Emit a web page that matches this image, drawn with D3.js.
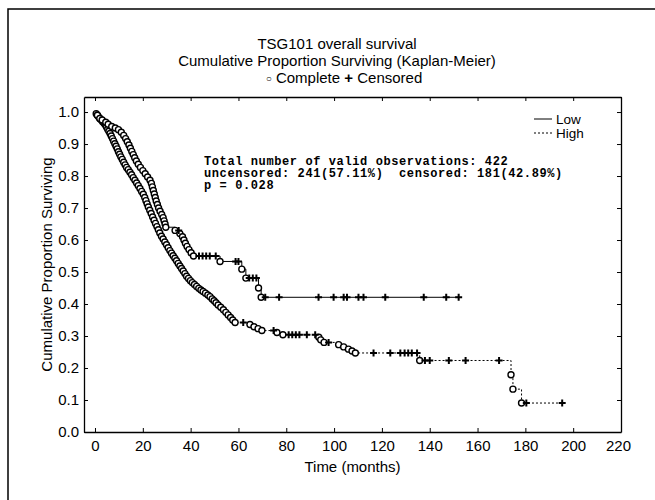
<!DOCTYPE html>
<html>
<head>
<meta charset="utf-8">
<script src="https://cdn.jsdelivr.net/npm/d3@7"></script>
<style>
  body { margin: 0; background: #fff; }
</style>
</head>
<body>
<div class="canvas"></div>
<script>
// ---- data ----
// events: [months, proportion surviving after the event]
const lowEvents = [
  [1,0.99],[2,0.98],[3,0.975],[4.5,0.968],[5.5,0.962],[7,0.955],[8.5,0.95],[9.8,0.945],
  [11,0.937],[12,0.927],[12.8,0.917],[13.5,0.907],[14.2,0.897],[14.8,0.887],[15.4,0.877],
  [16,0.867],[16.6,0.857],[17.3,0.847],[18.1,0.837],[19,0.827],[20,0.817],[21,0.807],
  [22,0.797],[23,0.787],[23.6,0.777],[24,0.766],[24.4,0.755],[24.8,0.744],[25.2,0.733],
  [25.6,0.722],[26.1,0.711],[26.6,0.7],[27.2,0.69],[27.9,0.68],[28.5,0.67],[28.9,0.66],
  [29.3,0.65],[29.6,0.64],[33.5,0.63],[35.5,0.62],[36.6,0.61],[37.2,0.6],[37.8,0.59],
  [38.5,0.58],[39.3,0.57],[40.2,0.56],[41.2,0.55],[52.3,0.533],[61.4,0.509],[63.1,0.481],
  [68.4,0.45],[69.5,0.421]
];
const lowCensored = [35, 43.5, 45, 46.5, 48, 50.5, 58.8, 60, 64.5, 66, 67.5,
  71.2, 77, 93.5, 99.8, 104, 105.4, 110.2, 112.3, 121.4, 137.5, 146.9, 152.1];

const highEvents = [
  [0.5,0.995],[1,0.99],[1.5,0.985],[2,0.98],[2.6,0.975],[3.2,0.97],[3.8,0.965],[4.3,0.96],
  [4.8,0.953],[5.3,0.946],[5.8,0.94],[6.3,0.933],[6.8,0.925],[7.3,0.917],[7.8,0.909],
  [8.3,0.901],[8.8,0.893],[9.3,0.885],[9.8,0.876],[10.3,0.868],[10.8,0.86],[11.4,0.852],
  [12,0.843],[12.6,0.835],[13.2,0.827],[13.9,0.82],[14.6,0.812],[15.3,0.804],[16,0.795],
  [16.7,0.787],[17.4,0.778],[18.1,0.77],[18.8,0.761],[19.5,0.752],[20.2,0.743],[20.8,0.733],
  [21.3,0.723],[21.8,0.713],[22.3,0.703],[22.9,0.693],[23.5,0.683],[24.1,0.672],[24.7,0.662],
  [25.3,0.652],[25.9,0.642],[26.5,0.632],[27.1,0.622],[27.8,0.612],[28.5,0.603],[29.2,0.594],
  [29.9,0.585],[30.6,0.576],[31.3,0.567],[32,0.559],[32.7,0.551],[33.4,0.543],[34.1,0.535],
  [34.8,0.527],[35.5,0.519],[36.2,0.511],[36.9,0.503],[37.6,0.495],[38.3,0.487],[39.1,0.48],
  [39.9,0.473],[40.7,0.467],[41.6,0.461],[42.5,0.455],[43.4,0.449],[44.3,0.444],[45.2,0.439],
  [46.2,0.434],[47.2,0.428],[48.1,0.423],[49,0.416],[49.8,0.41],[50.6,0.404],[51.5,0.397],
  [52.6,0.39],[53.7,0.382],[54.7,0.374],[55.7,0.366],[56.7,0.358],[57.6,0.35],[58.6,0.342],
  [64.8,0.336],[66.5,0.329],[68.2,0.323],[69.8,0.317],[76.1,0.311],[78.6,0.304],
  [93.6,0.296],[94.4,0.288],[95.8,0.28],[101.9,0.273],[104,0.266],[106,0.259],[107.5,0.253],
  [108.9,0.247],[135.8,0.2235],[174,0.179],[174.8,0.134],[178.4,0.0905]
];
const highCensored = [62, 74.7, 81, 82.5, 84, 85.5, 88.6, 92.1, 97.7, 116.5, 123.5,
  127.7, 129.5, 131, 132.5, 134.7, 138, 140, 148, 155, 169, 180.4, 195.4];

const xTicks = [0, 20, 40, 60, 80, 100, 120, 140, 160, 180, 200, 220];
const yTicks = [0, 0.1, 0.2, 0.3, 0.4, 0.5, 0.6, 0.7, 0.8, 0.9, 1.0];

const titleLines = ['TSG101 overall survival', 'Cumulative Proportion Surviving (Kaplan-Meier)'];
const infoLines = [
  'Total number of valid observations: 422',
  'uncensored: 241(57.11%)  censored: 181(42.89%)',
  'p = 0.028'
];

const sans = '"Liberation Sans", Arial, sans-serif';
const mono = '"Liberation Mono", "Courier New", monospace';

// ---- layout ----
const svg = d3.select('.canvas')
  .append('svg')
  .attr('width', 655)
  .attr('height', 500)
  .style('font-family', sans);

const plot = {left: 84, right: 621, top: 97, bottom: 432};

const x = d3.scaleLinear().domain([-4.6, 220]).range([plot.left, plot.right]);
const y = d3.scaleLinear().domain([0, 1.047]).range([plot.bottom, plot.top]);

// outer frame (only left and top edges show)
svg.append('path')
  .attr('d', 'M8,500V9H655')
  .attr('fill', 'none')
  .attr('stroke', '#000')
  .attr('stroke-width', 1.5);

// titles
titleLines.forEach((t, i) => {
  svg.append('text')
    .attr('x', 337).attr('y', 49 + i * 17)
    .attr('text-anchor', 'middle')
    .attr('font-size', 15)
    .text(t);
});
const sub = svg.append('text')
  .attr('x', 344).attr('y', 83)
  .attr('text-anchor', 'middle')
  .attr('font-size', 15);
sub.append('tspan').attr('font-size', 10).attr('dy', -1).text('○');
sub.append('tspan').attr('dy', 1).text(' Complete ');
sub.append('tspan').attr('font-weight', 'bold').text('+');
sub.append('tspan').text('  Censored');

// axes
const styleAxis = g => {
  g.attr('font-size', 15).attr('font-family', sans);
  g.selectAll('path, line').attr('stroke', '#000');
  g.selectAll('text').attr('fill', '#000');
  g.select('.domain').attr('stroke-width', 1.3);
};

const xAxisGroup = svg.append('g')
  .attr('transform', `translate(0,${plot.bottom})`)
  .call(d3.axisBottom(x).tickValues(xTicks).tickSizeInner(-4).tickSizeOuter(0).tickPadding(8))
  .call(styleAxis);
// last label sits a little inside the frame in the original
xAxisGroup.selectAll('.tick text').filter(d => d === 220).attr('dx', -3);

svg.append('g')
  .attr('transform', `translate(0,${plot.top})`)
  .call(d3.axisTop(x).tickValues(xTicks).tickFormat('').tickSizeInner(-4).tickSizeOuter(0))
  .call(styleAxis);
svg.append('g')
  .attr('transform', `translate(${plot.left},0)`)
  .call(d3.axisLeft(y).tickValues(yTicks).tickFormat(d3.format('.1f')).tickSizeInner(-4).tickSizeOuter(0).tickPadding(5))
  .call(styleAxis);
svg.append('g')
  .attr('transform', `translate(${plot.right},0)`)
  .call(d3.axisRight(y).tickValues(yTicks).tickFormat('').tickSizeInner(-4).tickSizeOuter(0))
  .call(styleAxis);

// axis titles
svg.append('text')
  .attr('transform', `translate(52,${(plot.top + plot.bottom) / 2}) rotate(-90)`)
  .attr('text-anchor', 'middle')
  .attr('font-size', 15)
  .text('Cumulative Proportion Surviving');
svg.append('text')
  .attr('x', (plot.left + plot.right) / 2).attr('y', 472)
  .attr('text-anchor', 'middle')
  .attr('font-size', 15)
  .text('Time (months)');

// info block
infoLines.forEach((t, i) => {
  svg.append('text')
    .attr('x', 204).attr('y', 164.5 + i * 12)
    .style('font-family', mono)
    .attr('font-weight', 'bold')
    .attr('font-size', 12)
    .attr('letter-spacing', 0.6)
    .style('white-space', 'pre')
    .text(t);
});

// ---- survival curves ----
const stepLine = d3.line().x(d => x(d[0])).y(d => y(d[1])).curve(d3.curveStepAfter);

function survivalAt(events, t) {
  let s = 1;
  events.forEach(e => { if (e[0] <= t) s = e[1]; });
  return s;
}

function drawCurve(events, censored, dash) {
  const lastT = d3.max(censored);
  const pts = [[0, 1], ...events, [lastT, survivalAt(events, lastT)]];
  svg.append('path')
    .datum(pts)
    .attr('d', stepLine)
    .attr('fill', 'none')
    .attr('stroke', '#000')
    .attr('stroke-width', 1)
    .attr('stroke-dasharray', dash);

  svg.append('g').selectAll('circle')
    .data(events)
    .enter().append('circle')
    .attr('cx', d => x(d[0]))
    .attr('cy', d => y(d[1]))
    .attr('r', 3)
    .attr('fill', '#fff')
    .attr('stroke', '#000')
    .attr('stroke-width', 1.4);

  svg.append('g').selectAll('path')
    .data(censored)
    .enter().append('path')
    .attr('d', d => {
      const cx = x(d), cy = y(survivalAt(events, d));
      return `M${cx - 3.5},${cy}H${cx + 3.5}M${cx},${cy - 3.5}V${cy + 3.5}`;
    })
    .attr('stroke', '#000')
    .attr('stroke-width', 2);
}

drawCurve(highEvents, highCensored, '2,2');
drawCurve(lowEvents, lowCensored, null);

// legend
const legend = [{name: 'Low', dash: null}, {name: 'High', dash: '2,2'}];
legend.forEach((l, i) => {
  const ly = 119 + i * 14;
  svg.append('line')
    .attr('x1', 534).attr('x2', 552).attr('y1', ly).attr('y2', ly)
    .attr('stroke', '#000').attr('stroke-width', 1)
    .attr('stroke-dasharray', l.dash);
  svg.append('text')
    .attr('x', 556).attr('y', ly + 5)
    .attr('font-size', 13.5)
    .text(l.name);
});
</script>
</body>
</html>
